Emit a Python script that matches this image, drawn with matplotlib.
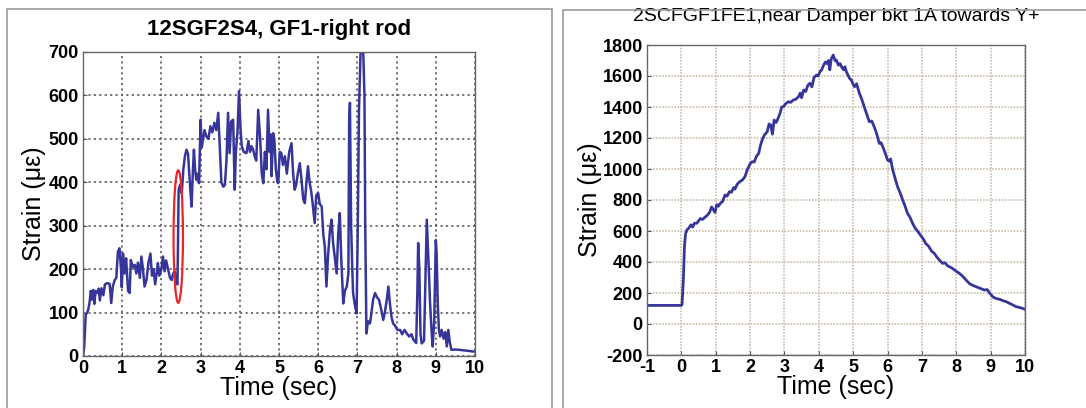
import matplotlib
matplotlib.use('Agg')
import matplotlib.pyplot as plt
from matplotlib.patches import Ellipse, Rectangle

plt.rcParams['font.family'] = ['Liberation Sans', 'DejaVu Sans']
plt.rcParams['axes.unicode_minus'] = False

# left panel: 12SGF2S4, GF1-right rod
t_left = [0.00, 0.03, 0.07, 0.10, 0.13, 0.17, 0.20, 0.23, 0.26, 0.29, 0.32, 0.36, 0.40, 0.43,
          0.47, 0.52, 0.56, 0.62, 0.68, 0.72, 0.76, 0.81, 0.85, 0.89, 0.93, 0.97, 0.99, 1.02,
          1.06, 1.10, 1.15, 1.19, 1.22, 1.27, 1.32, 1.36, 1.40, 1.45, 1.49, 1.53, 1.57, 1.62,
          1.67, 1.72, 1.76, 1.80, 1.84, 1.88, 1.91, 1.95, 2.00, 2.04, 2.08, 2.12, 2.17, 2.22,
          2.26, 2.30, 2.34, 2.38, 2.41, 2.44, 2.48, 2.52, 2.56, 2.60, 2.64, 2.68, 2.71, 2.74,
          2.77, 2.80, 2.83, 2.86, 2.89, 2.93, 2.96, 3.00, 3.03, 3.06, 3.10, 3.15, 3.20, 3.25,
          3.30, 3.35, 3.40, 3.45, 3.49, 3.53, 3.58, 3.62, 3.66, 3.70, 3.74, 3.78, 3.83, 3.87,
          3.90, 3.94, 3.98, 4.02, 4.05, 4.10, 4.17, 4.22, 4.26, 4.30, 4.34, 4.38, 4.42, 4.47,
          4.52, 4.56, 4.60, 4.64, 4.68, 4.72, 4.76, 4.79, 4.81, 4.85, 4.88, 4.92, 4.96, 4.98,
          5.02, 5.06, 5.10, 5.15, 5.20, 5.26, 5.32, 5.36, 5.40, 5.44, 5.48, 5.53, 5.57, 5.62,
          5.66, 5.70, 5.74, 5.78, 5.82, 5.86, 5.91, 5.95, 6.00, 6.04, 6.09, 6.13, 6.17, 6.21,
          6.25, 6.30, 6.34, 6.38, 6.42, 6.47, 6.51, 6.55, 6.59, 6.64, 6.68, 6.73, 6.77, 6.79,
          6.81, 6.84, 6.87, 6.89, 6.93, 6.98, 7.01, 7.04, 7.08, 7.12, 7.15, 7.18, 7.20, 7.23,
          7.27, 7.32, 7.36, 7.40, 7.45, 7.50, 7.55, 7.60, 7.66, 7.70, 7.75, 7.79, 7.83, 7.87,
          7.91, 7.96, 8.02, 8.09, 8.14, 8.20, 8.26, 8.32, 8.38, 8.43, 8.50, 8.53, 8.55, 8.58,
          8.61, 8.64, 8.70, 8.74, 8.77, 8.80, 8.83, 8.85, 8.89, 8.92, 8.96, 9.00, 9.02, 9.05,
          9.08, 9.11, 9.15, 9.20, 9.24, 9.28, 9.32, 9.36, 9.40, 9.50, 9.62, 9.80, 10.0]
strain_left = [0, 20, 95, 100, 105, 125, 150, 130, 152, 120, 150, 145, 155, 128,
               156, 140, 165, 168, 166, 122, 160, 175, 180, 240, 248, 200, 158, 236,
               190, 225, 150, 145, 221, 205, 210, 190, 215, 180, 229, 200, 160, 175,
               215, 236, 185, 200, 165, 190, 214, 185, 200, 229, 195, 220, 200, 180,
               175, 190, 195, 170, 165, 383, 395, 375, 430, 460, 475, 465, 420, 380,
               344, 420, 475, 430, 406, 420, 398, 544, 480, 498, 520, 505, 500, 529,
               515, 537, 520, 560, 480, 400, 390, 394, 450, 560, 467, 540, 544, 383,
               470, 513, 610, 520, 483, 470, 467, 495, 470, 483, 475, 460, 450, 567,
               500, 420, 398, 470, 430, 567, 470, 510, 414, 513, 500, 430, 400, 398,
               470, 467, 440, 460, 420, 470, 490, 420, 383, 395, 420, 444, 410, 360,
               352, 400, 437, 400, 380, 350, 306, 370, 375, 350, 344, 280, 250, 160,
               230, 290, 314, 260, 230, 190, 280, 329, 220, 121, 150, 160, 190, 540,
               583, 300, 200, 145, 120, 98, 300, 567, 698, 700, 698, 600, 300, 52,
               80, 75, 100, 130, 145, 135, 130, 110, 83, 100, 130, 160, 120, 90,
               75, 70, 60, 60, 50, 60, 52, 45, 50, 37, 30, 150, 260, 200,
               50, 29, 35, 200, 314, 250, 180, 129, 60, 22, 80, 267, 240, 120,
               60, 45, 60, 40, 55, 22, 60, 30, 14, 15, 14, 12, 10]

# right panel: 2SCFGF1FE1
t_right = [-1.0, 0.0, 0.02, 0.06, 0.09, 0.12, 0.16, 0.22, 0.28, 0.33, 0.38, 0.45, 0.50, 0.55,
           0.62, 0.69, 0.75, 0.82, 0.88, 0.93, 0.98, 1.03, 1.08, 1.13, 1.20, 1.27, 1.33, 1.40,
           1.46, 1.52, 1.56, 1.62, 1.70, 1.78, 1.85, 1.91, 1.96, 2.02, 2.06, 2.12, 2.18, 2.25,
           2.30, 2.35, 2.42, 2.50, 2.55, 2.60, 2.65, 2.70, 2.76, 2.82, 2.87, 2.92, 2.97, 3.03,
           3.11, 3.18, 3.26, 3.33, 3.41, 3.46, 3.50, 3.56, 3.62, 3.68, 3.74, 3.80, 3.86, 3.93,
           3.98, 4.04, 4.08, 4.14, 4.19, 4.24, 4.28, 4.32, 4.36, 4.42, 4.47, 4.51, 4.57, 4.62,
           4.66, 4.72, 4.76, 4.80, 4.86, 4.91, 4.95, 5.00, 5.04, 5.10, 5.18, 5.25, 5.32, 5.40,
           5.47, 5.54, 5.61, 5.68, 5.76, 5.81, 5.86, 5.92, 6.00, 6.05, 6.09, 6.15, 6.22, 6.29,
           6.36, 6.44, 6.51, 6.58, 6.65, 6.73, 6.80, 6.87, 6.92, 7.00, 7.05, 7.11, 7.20, 7.28,
           7.36, 7.44, 7.52, 7.60, 7.67, 7.75, 7.89, 8.00, 8.09, 8.20, 8.30, 8.38, 8.47, 8.57,
           8.70, 8.82, 8.90, 8.97, 9.06, 9.15, 9.28, 9.36, 9.45, 9.60, 9.74, 9.87, 10.0]
strain_right = [120, 120, 125, 300, 500, 580, 606, 620, 640, 625, 650, 650, 665, 680,
                675, 690, 700, 720, 755, 737, 720, 770, 760, 778, 790, 832, 825, 854,
                850, 880, 870, 900, 918, 930, 950, 990, 1015, 1040, 1047, 1045, 1080, 1101,
                1150, 1187, 1220, 1241, 1290, 1284, 1225, 1316, 1300, 1330, 1359, 1400, 1402, 1420,
                1434, 1430, 1445, 1450, 1467, 1490, 1460, 1510, 1500, 1540, 1553, 1530, 1590, 1606,
                1600, 1630, 1639, 1670, 1690, 1680, 1700, 1640, 1710, 1735, 1700, 1703, 1670, 1680,
                1660, 1640, 1660, 1628, 1600, 1580, 1574, 1545, 1531, 1550, 1488, 1450, 1402, 1350,
                1305, 1310, 1273, 1230, 1165, 1170, 1144, 1110, 1058, 1050, 1065, 994, 940, 886,
                850, 800, 760, 714, 690, 649, 620, 600, 585, 560, 545, 520, 500, 470,
                456, 430, 410, 391, 395, 375, 359, 340, 327, 305, 280, 262, 250, 241,
                230, 219, 222, 200, 176, 165, 158, 150, 144, 128, 112, 105, 95]

line_color = '#36369a'

fig = plt.figure(figsize=(10.86, 4.08), dpi=100)

# panel frames
fig.add_artist(Rectangle((7 / 1086, -0.1), (552 - 7) / 1086, 1.1 - 9 / 408,
                         transform=fig.transFigure, fill=False, edgecolor='#999999', lw=1.2))
fig.add_artist(Rectangle((563 / 1086, -0.1), 0.6, 1.1 - 10 / 408,
                         transform=fig.transFigure, fill=False, edgecolor='#999999', lw=1.2))

# left axes
ax1 = fig.add_axes([83 / 1086, 52 / 408, (475 - 83) / 1086, (356 - 52) / 408])
ax1.plot(t_left, strain_left, color=line_color, lw=1.8)
ax1.add_patch(Ellipse((2.43, 275), 0.24, 305, fill=False, edgecolor='#e8262a', lw=1.6, zorder=3))
ax1.set_xlim(0, 10)
ax1.set_ylim(0, 700)
ax1.set_xticks(range(0, 11))
ax1.set_yticks(range(0, 701, 100))
ax1.grid(True, color='#666666', linestyle=(0, (1.2, 1.8)), lw=1.3)
ax1.set_title('12SGF2S4, GF1-right rod', fontsize=16, fontweight='bold', pad=12)
ax1.set_xlabel('Time (sec)', fontsize=18, labelpad=-1)
ax1.set_ylabel('Strain (\u03bc\u03b5)', fontsize=18, labelpad=2)

# right axes
ax2 = fig.add_axes([647 / 1086, 53 / 408, (1025 - 647) / 1086, (355 - 45) / 408])
ax2.plot(t_right, strain_right, color=line_color, lw=2.0)
ax2.set_xlim(-1, 10)
ax2.set_ylim(-200, 1800)
ax2.set_xticks(range(-1, 11))
ax2.set_yticks(range(-200, 1801, 200))
ax2.grid(True, color='#c4b19f', linestyle=(0, (1, 1)), lw=1.1)
ax2.set_title('2SCFGF1FE1,near Damper bkt 1A towards Y+', fontsize=14, pad=17)
ax2.set_xlabel('Time (sec)', fontsize=18, labelpad=-1)
ax2.set_ylabel('Strain (\u03bc\u03b5)', fontsize=18, labelpad=0)

for ax in (ax1, ax2):
    ax.set_axisbelow(True)
    ax.tick_params(direction='in', length=3, width=0.8, color='#555555', pad=3, labelsize=13)
    for lab in ax.get_xticklabels() + ax.get_yticklabels():
        lab.set_fontweight('bold')
    for s in ax.spines.values():
        s.set_color('#666666')
        s.set_linewidth(1.0)

fig.savefig('out.png', dpi=100)
